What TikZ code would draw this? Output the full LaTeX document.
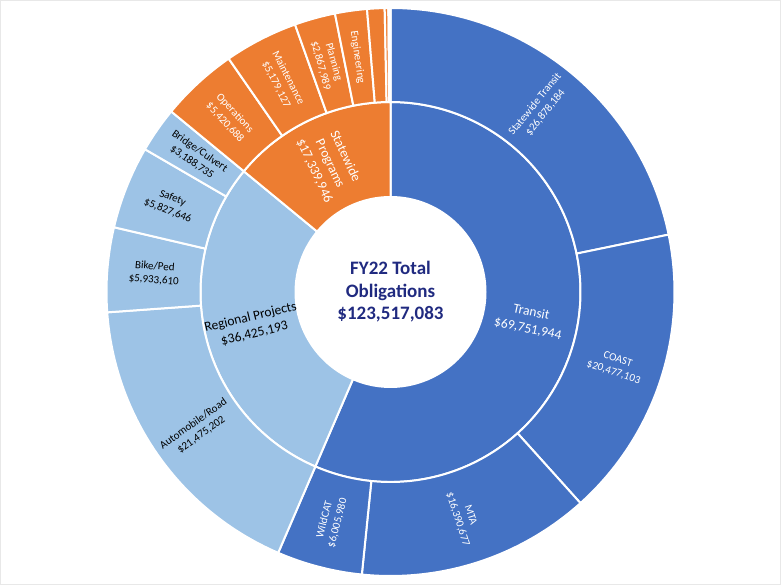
\documentclass[tikz,border=0pt]{standalone}
\usepackage{fontspec}
\setmainfont{Carlito}
\definecolor{tblue}{RGB}{68,114,196}
\definecolor{sorange}{RGB}{237,125,49}
\definecolor{rblue}{RGB}{157,195,230}
\definecolor{navy}{RGB}{32,42,128}
\definecolor{frame}{RGB}{232,232,232}
\newcommand\mkslice[5]{%
  \filldraw[fill=#1, draw=white, line width=2pt, line join=round]
    (#2:#4) arc[start angle=#2, end angle=#3, radius=#4]
    -- (#3:#5) arc[start angle=#3, end angle=#2, radius=#5] -- cycle;}
\tikzset{
  olab/.style={align=center, inner sep=0pt, font=\fontsize{11}{13.5}\selectfont},
  ilab/.style={align=center, inner sep=0pt, font=\fontsize{13.5}{17}\selectfont},
  wtxt/.style={text=white},
  btxt/.style={text=black}
}
\begin{document}
\begin{tikzpicture}
\useasboundingbox (-390.5pt,-293pt) rectangle (390.5pt,292pt);
\draw[frame, line width=1pt] (-390pt,-292.5pt) rectangle (390pt,291.5pt);
% inner ring
\mkslice{tblue}{90}{-113.297}{95pt}{190pt}
\mkslice{rblue}{-113.297}{-219.461}{95pt}{190pt}
\mkslice{sorange}{-219.461}{-270}{95pt}{190pt}
% outer ring
\mkslice{tblue}{90}{11.661}{190pt}{284pt}
\mkslice{tblue}{11.661}{-48.021}{190pt}{284pt}
\mkslice{tblue}{-48.021}{-95.793}{190pt}{284pt}
\mkslice{tblue}{-95.793}{-113.297}{190pt}{284pt}
\mkslice{rblue}{-113.297}{-175.888}{190pt}{284pt}
\mkslice{rblue}{-175.888}{-193.182}{190pt}{284pt}
\mkslice{rblue}{-193.182}{-210.167}{190pt}{284pt}
\mkslice{rblue}{-210.167}{-219.461}{190pt}{284pt}
\mkslice{sorange}{-219.461}{-235.260}{190pt}{284pt}
\mkslice{sorange}{-235.260}{-250.355}{190pt}{284pt}
\mkslice{sorange}{-250.355}{-258.714}{190pt}{284pt}
\mkslice{sorange}{-258.714}{-265.254}{190pt}{284pt}
\mkslice{sorange}{-265.254}{-268.824}{190pt}{284pt}
\mkslice{sorange}{-268.824}{-269.584}{190pt}{284pt}
\mkslice{sorange}{-269.584}{-270}{190pt}{284pt}
% centre
\node[align=center, text=navy, inner sep=0pt, font=\bfseries\fontsize{19}{22.5}\selectfont] (ctr) at (0,0) {FY22 Total\\Obligations\\\$123,517,083};
% inner labels
\node[ilab, wtxt, rotate=-11.65] (transit) at (-11.65:142pt) {Transit\\\$69,751,944};
\node[ilab, btxt, rotate=13.62] (regional) at (-166.38:142pt) {Regional Projects\\\$36,425,193};
\node[ilab, wtxt, rotate=-64.73] (statewide) at (-244.73:142pt) {Statewide\\Programs\\\$17,339,946};
% outer labels
\node[olab, wtxt, rotate=50.83] (st) at (50.83:237pt) {Statewide Transit\\\$26,878,184};
\node[olab, wtxt, rotate=-18.18] (coast) at (-18.18:237pt) {COAST\\\$20,477,103};
\node[olab, wtxt, rotate=-71.91] (mta) at (-71.91:237pt) {MTA\\\$16,390,677};
\node[olab, wtxt, rotate=75.45] (wildcat) at (-104.55:237pt) {WildCAT\\\$6,005,980};
\node[olab, btxt, rotate=35.41] (auto) at (-144.59:237pt) {Automobile/Road\\\$21,475,202};
\node[olab, btxt, rotate=-4.535] (bike) at (-184.535:237pt) {Bike/Ped\\\$5,933,610};
\node[olab, btxt, rotate=-21.67] (safety) at (-201.67:237pt) {Safety\\\$5,827,646};
\node[olab, btxt, rotate=-34.81] (bridge) at (-214.81:237pt) {Bridge/Culvert\\\$3,188,735};
\node[olab, wtxt, rotate=-47.36] (ops) at (-227.36:237pt) {Operations\\\$5,420,688};
\node[olab, wtxt, rotate=-62.81] (maint) at (-242.81:237pt) {Maintenance\\\$5,179,127};
\node[olab, wtxt, rotate=-74.53] (plan) at (-254.53:237pt) {Planning\\\$2,867,989};
\node[olab, wtxt, rotate=-81.98] (eng) at (-261.98:237pt) {Engineering};
\end{tikzpicture}
\end{document}
